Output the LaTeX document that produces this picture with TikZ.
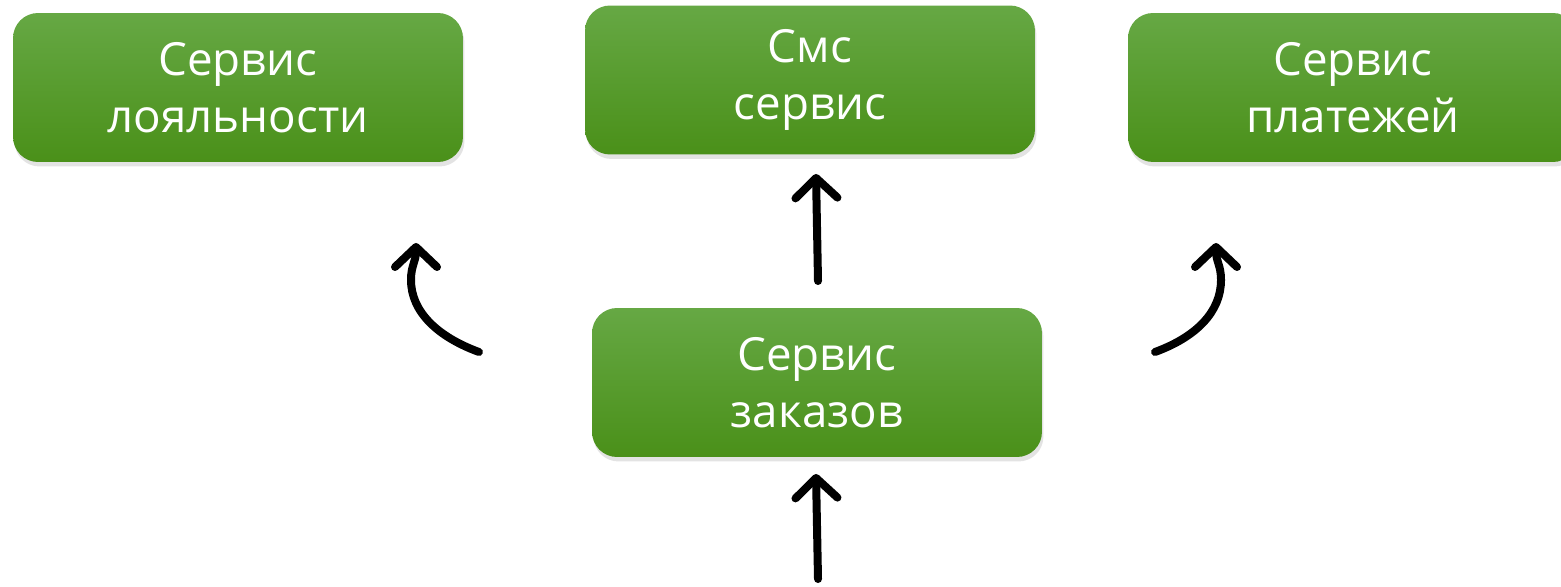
\documentclass[tikz,border=0pt]{standalone}
\usepackage{fontspec}
\setmainfont{Open Sans}
\usetikzlibrary{arrows.meta,shadows}
\definecolor{boxtop}{HTML}{66A844}
\definecolor{boxbottom}{HTML}{4A9019}
\tikzset{
  service/.style={rounded corners=0.5cm, minimum width=9cm, minimum height=2.98cm,
    top color=boxtop, bottom color=boxbottom, text=white, align=center,
    font=\fontsize{26}{32.5}\selectfont,
    drop shadow={shadow xshift=0.03cm, shadow yshift=-0.09cm, opacity=0.22}},
  flow/.style={line width=0.16cm, line cap=round, line join=round,
    -{Straight Barb[length=0.4cm, width=0.84cm, line cap=round, line join=round]}}
}
\begin{document}
\begin{tikzpicture}[x=0.02cm, y=-0.02cm]
		\useasboundingbox (0, 0) rectangle (1561, 587);
		
		%%%%% BOXES %%%%%
		\node[service] (loyalty) at (238, 87.5) {Сервис\\лояльности};
		\node[service] (sms) at (810, 80) {Смс\\сервис};
		\node[service] (payments) at (1353, 87.5) {Сервис\\платежей};
		\node[service] (orders) at (817, 382.5) {Сервис\\заказов};
		
		%%%%% ARROWS %%%%%
		\coordinate (smsIn) at (816, 174);
		\coordinate (ordersOut) at (818, 281);
		\coordinate (ordersIn) at (816, 474);
		\coordinate (entry) at (818, 579);
		\coordinate (loyaltyIn) at (416, 243);
		\coordinate (loyaltyOut) at (479, 352);
		\coordinate (paymentsIn) at (1216, 243);
		\coordinate (paymentsOut) at (1155, 352);
		
		\draw[flow] (ordersOut) -- (smsIn);
		\draw[flow] (entry) -- (ordersIn);
		\draw[flow] (loyaltyOut) .. controls (438, 337) and (411, 312) .. (411, 280)
		  .. controls (411, 265) and (416, 262) .. (loyaltyIn);
		\draw[flow] (paymentsOut) .. controls (1196, 337) and (1221, 312) .. (1221, 280)
		  .. controls (1221, 265) and (1216, 262) .. (paymentsIn);
		
\end{tikzpicture}
\end{document}
